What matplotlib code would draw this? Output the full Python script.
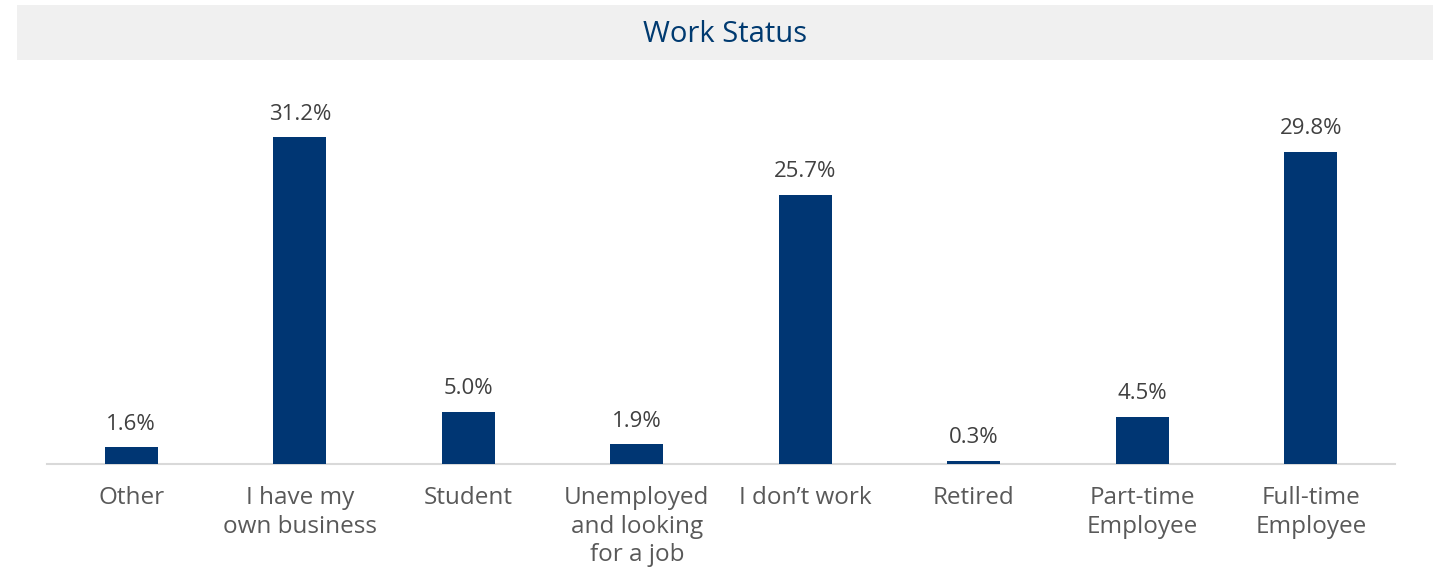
import matplotlib.pyplot as plt
from matplotlib.patches import Rectangle

plt.rcParams['font.family'] = ['Open Sans', 'DejaVu Sans']

categories = ["Other", "I have my\nown business", "Student", "Unemployed\nand looking\nfor a job",
              "I don\u2019t work", "Retired", "Part-time\nEmployee", "Full-time\nEmployee"]
values = [1.6, 31.2, 5.0, 1.9, 25.7, 0.3, 4.5, 29.8]

bar_color = '#003673'
title_color = '#003A70'

fig = plt.figure(figsize=(14.38, 5.68), dpi=100)

# Grey title band across the top
fig.patches.append(Rectangle((17 / 1438, 1 - 60 / 568), 1416 / 1438, 55 / 568,
                             transform=fig.transFigure, facecolor='#f0f0f0',
                             edgecolor='none', zorder=0))
fig.text(725 / 1438, 1 - 34 / 568, "Work Status", ha='center', va='center',
         fontsize=21, color=title_color)

ax = fig.add_axes([47 / 1438, 1 - 464 / 568, 1348 / 1438, 384 / 568])
x = range(len(categories))
bars = ax.bar(x, values, width=0.315, color=bar_color, zorder=3)

ax.set_xlim(-0.5, len(categories) - 0.5)
ax.set_ylim(0, 384 / 10.48)

for b, v in zip(bars, values):
    ax.annotate(f"{v:.1f}%", (b.get_x() + b.get_width() / 2, v),
                xytext=(0, 9), textcoords='offset points',
                ha='center', va='bottom', fontsize=16, color='#404040')

ax.set_xticks(list(x))
ax.set_xticklabels(categories, fontsize=17.5, color='#595959', linespacing=1.25)
ax.tick_params(axis='x', length=0, pad=16)
ax.set_yticks([])
for s in ['top', 'right', 'left']:
    ax.spines[s].set_visible(False)
ax.spines['bottom'].set_color('#d9d9d9')
ax.spines['bottom'].set_linewidth(1.5)
ax.patch.set_alpha(0)

plt.savefig('out.png', dpi=100)
plt.close()
